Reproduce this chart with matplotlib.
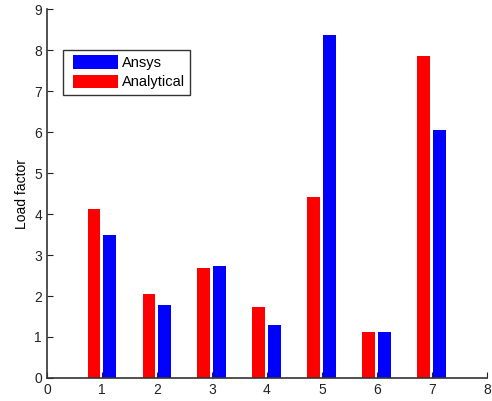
import numpy as np
import matplotlib
matplotlib.use("Agg")
import matplotlib.pyplot as plt
from matplotlib.patches import Rectangle
from matplotlib.container import BarContainer
from matplotlib.legend_handler import HandlerPatch, update_from_first_child

plt.rcParams['font.family'] = ['Liberation Sans', 'DejaVu Sans']

# values
cases = [1, 2, 3, 4, 5, 6, 7]
analytical = [4.12, 2.05, 2.68, 1.72, 4.41, 1.11, 7.85]
ansys = [3.49, 1.78, 2.73, 1.29, 8.36, 1.11, 6.04]

fig = plt.figure(figsize=(4.92, 4.01), dpi=100)
ax = fig.add_axes([0.0955, 0.0574, 0.894, 0.920])

x = np.array(cases)
w = 0.235
off = 0.145
b_ansys = ax.bar(x + off, ansys, w, color='#0000ff', label='Ansys')
b_anal = ax.bar(x - off, analytical, w, color='#ff0000', label='Analytical')

ax.set_xlim(0, 8)
ax.set_ylim(0, 9)
ax.set_xticks(range(0, 9))
ax.set_yticks(range(0, 10))
ax.tick_params(direction='in', length=4, labelsize=10, colors='#222222')
ax.set_ylabel('Load factor', fontsize=10)

for s in ['top', 'right']:
    ax.spines[s].set_visible(False)
for s in ['left', 'bottom']:
    ax.spines[s].set_color('#333333')
    ax.spines[s].set_linewidth(1.2)


def shifted_patch(legend, orig_handle, xdescent, ydescent, width, height, fontsize):
    # matlab legends leave a wider gap left of the swatch
    sh = 3.6
    return Rectangle((-xdescent + sh, -ydescent), width - sh, height)


leg = ax.legend(handles=[b_ansys, b_anal], loc='upper left',
                bbox_to_anchor=(0.036, 0.889), borderaxespad=0,
                fancybox=False, edgecolor='black', fontsize=10.5,
                handlelength=3.43, handleheight=1.05, handletextpad=0.27,
                labelspacing=0.32, borderpad=0.36,
                handler_map={BarContainer: HandlerPatch(patch_func=shifted_patch,
                                                        update_func=update_from_first_child)})
leg.get_frame().set_linewidth(1.0)

fig.savefig('out.png', dpi=100)
